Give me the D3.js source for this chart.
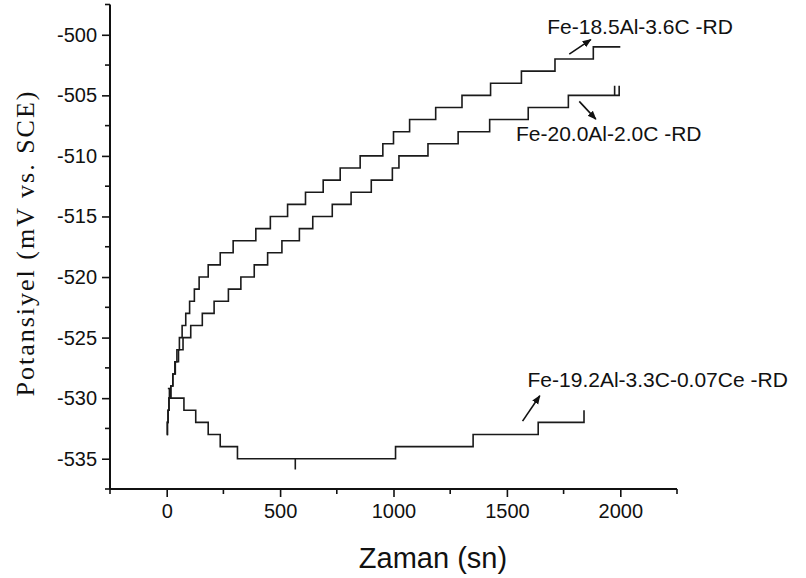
<!DOCTYPE html>
<html>
<head>
<meta charset="utf-8">
<script src="https://cdn.jsdelivr.net/npm/d3@7"></script>
<style>
  body { margin: 0; background: #fff; }
  svg { display: block; }
</style>
</head>
<body>
<div id="chart"></div>
<script>
// zaman (sn) where each step starts, and the potential held from that time
const tFe185 = [0, 3, 6, 10, 18, 27, 36, 45, 56, 68, 84, 101, 122, 143, 183, 236, 293, 393, 457, 533, 612, 690, 765, 853, 953, 1000, 1071, 1186, 1302, 1428, 1564, 1712, 1881, 2000]
const vFe185 = [-533, -532, -531, -530, -529, -528, -527, -526, -525, -524, -523, -522, -521, -520, -519, -518, -517, -516, -515, -514, -513, -512, -511, -510, -509, -508, -507, -506, -505, -504, -503, -502, -501, -501]

const tFe200 = [0, 3, 6, 10, 18, 27, 38, 52, 72, 106, 157, 209, 272, 327, 386, 445, 508, 585, 644, 730, 813, 902, 995, 1024, 1152, 1285, 1424, 1594, 1771, 1975, 1975, 1995, 1995]
const vFe200 = [-533, -532, -531, -530, -529, -528, -527, -526, -525, -524, -523, -522, -521, -520, -519, -518, -517, -516, -515, -514, -513, -512, -511, -510, -509, -508, -507, -506, -505, -504.2, -505, -504.2, -505]

const tFe192 = [5, 12, 76, 128, 183, 236, 312, 567, 567, 1009, 1351, 1638, 1840, 1840]
const vFe192 = [-529.2, -530, -531, -532, -533, -534, -535, -535.9, -535, -534, -533, -532, -532, -531]

const yMajor = [-500, -505, -510, -515, -520, -525, -530, -535]
const yMinor = [-497.5, -502.5, -507.5, -512.5, -517.5, -522.5, -527.5, -532.5, -537.5]
const xMajor = [0, 500, 1000, 1500, 2000]
const xMinor = [-250, 250, 750, 1250, 1750, 2250]

// etiketler: yazi konumu ve ok (veri biriminde)
const etiketler = [
  { text: 'Fe-18.5Al-3.6C -RD', tx: 1678, ty: -499.9, x1: 1775, y1: -501.6, x2: 1870, y2: -500.4 },
  { text: 'Fe-20.0Al-2.0C -RD', tx: 1540, ty: -508.8, x1: 1819, y1: -505.5, x2: 1892, y2: -506.96 },
  { text: 'Fe-19.2Al-3.3C-0.07Ce -RD', tx: 1591, ty: -529.05, x1: 1569, y1: -531.9, x2: 1645, y2: -529.8 }
]

const width = 806
const height = 578

const x = d3.scaleLinear().domain([-250, 2250]).range([110, 677])
const y = d3.scaleLinear().domain([-537.5, -497.5]).range([489, 4.5])

const svg = d3.select('#chart')
  .append('svg')
  .attr('width', width)
  .attr('height', height)

svg.append('defs')
  .append('marker')
  .attr('id', 'ok')
  .attr('viewBox', '0 0 10 10')
  .attr('refX', 9)
  .attr('refY', 5)
  .attr('markerWidth', 9)
  .attr('markerHeight', 9)
  .attr('markerUnits', 'userSpaceOnUse')
  .attr('orient', 'auto')
  .append('path')
  .attr('d', 'M0,1 L10,5 L0,9 Z')
  .attr('fill', '#111')

// eksenler (kisa tire ile, unicode eksi degil)
const yAxis = svg.append('g')
  .attr('transform', `translate(${x(-250)},0)`)
  .call(d3.axisLeft(y).tickValues(yMajor).tickSize(8).tickPadding(5).tickFormat(d => String(d)))
yAxis.append('g')
  .selectAll('line')
  .data(yMinor)
  .join('line')
  .attr('x1', -5).attr('x2', 0)
  .attr('y1', d => y(d)).attr('y2', d => y(d))
  .attr('stroke', '#111')
  .attr('stroke-width', 1.6)

const xAxis = svg.append('g')
  .attr('transform', `translate(0,${y(-537.5)})`)
  .call(d3.axisBottom(x).tickValues(xMajor).tickSize(8).tickPadding(7).tickFormat(d => String(d)))
xAxis.append('g')
  .selectAll('line')
  .data(xMinor)
  .join('line')
  .attr('x1', d => x(d)).attr('x2', d => x(d))
  .attr('y1', 0).attr('y2', 5)
  .attr('stroke', '#111')
  .attr('stroke-width', 1.6)

yAxis.select('.domain').remove()
xAxis.select('.domain').remove()

svg.append('line')
  .attr('x1', x(-250)).attr('x2', x(-250))
  .attr('y1', y(-497.5)).attr('y2', y(-537.5))
  .attr('stroke', '#111').attr('stroke-width', 2)
svg.append('line')
  .attr('x1', x(-250)).attr('x2', x(2250))
  .attr('y1', y(-537.5)).attr('y2', y(-537.5))
  .attr('stroke', '#111').attr('stroke-width', 2)

svg.selectAll('.tick line')
  .attr('stroke', '#111')
  .attr('stroke-width', 1.6)
svg.selectAll('.tick text')
  .attr('fill', '#111')
  .style('font-family', '"Liberation Sans", Arial, sans-serif')
  .style('font-size', '20px')

// seriler
const line = d3.line()
  .x(d => x(d[0]))
  .y(d => y(d[1]))
  .curve(d3.curveStepAfter)

const seriler = [
  d3.zip(tFe185, vFe185),
  d3.zip(tFe200, vFe200),
  d3.zip(tFe192, vFe192)
]

svg.append('g')
  .selectAll('path')
  .data(seriler)
  .join('path')
  .attr('d', line)
  .attr('fill', 'none')
  .attr('stroke', '#1a1a1a')
  .attr('stroke-width', 1.6)

// etiketler
const et = svg.append('g')
et.selectAll('text')
  .data(etiketler)
  .join('text')
  .attr('x', d => x(d.tx))
  .attr('y', d => y(d.ty))
  .attr('fill', '#111')
  .style('font-family', '"Liberation Sans", Arial, sans-serif')
  .style('font-size', '21px')
  .text(d => d.text)

et.selectAll('line')
  .data(etiketler)
  .join('line')
  .attr('x1', d => x(d.x1))
  .attr('y1', d => y(d.y1))
  .attr('x2', d => x(d.x2))
  .attr('y2', d => y(d.y2))
  .attr('stroke', '#111')
  .attr('stroke-width', 1.6)
  .attr('marker-end', 'url(#ok)')

// eksen basliklari
svg.append('text')
  .attr('x', 433)
  .attr('y', 568)
  .attr('text-anchor', 'middle')
  .attr('fill', '#111')
  .style('font-family', '"Liberation Sans", Arial, sans-serif')
  .style('font-size', '29px')
  .text('Zaman (sn)')

svg.append('text')
  .attr('transform', 'translate(34,243) rotate(-90)')
  .attr('text-anchor', 'middle')
  .attr('fill', '#111')
  .style('font-family', '"Liberation Serif", "Times New Roman", serif')
  .style('font-size', '26px')
  .style('letter-spacing', '2px')
  .text('Potansiyel (mV vs. SCE)')
</script>
</body>
</html>
